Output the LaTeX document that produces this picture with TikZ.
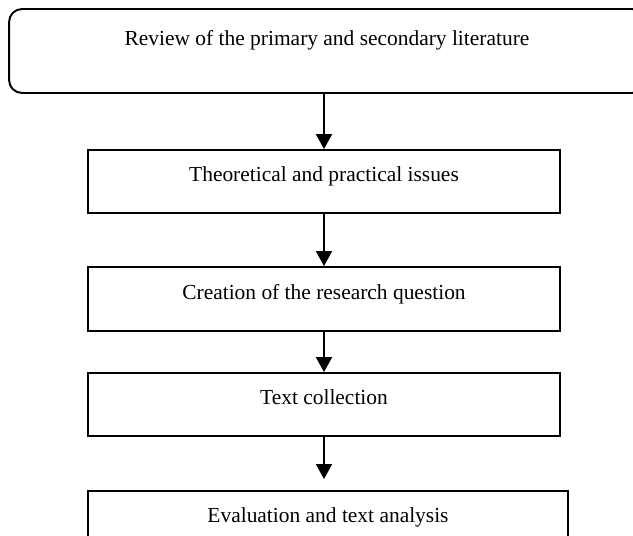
\documentclass[tikz,border=0pt]{standalone}
\usepackage{fontspec}
\setmainfont{Liberation Serif}
\usetikzlibrary{arrows.meta}
\begin{document}
\begin{tikzpicture}[x=0.02cm,y=-0.02cm,
    stage/.style={shape=rectangle,draw,line width=1.1pt,minimum height=1.26cm,
      text height=0.22cm,text depth=0.22cm,font=\fontsize{12.2}{14}\selectfont},
    flow/.style={-{Triangle[length=0.3cm,width=0.32cm]},line width=1.1pt}]
            \useasboundingbox (0,0) rectangle (633,535);
            \node (review) at (327,51) [stage,rounded corners=0.26cm,minimum width=12.72cm,minimum height=1.68cm,text depth=0.44cm] {Review of the primary and secondary literature};
            \node (issues) at (324,181.5) [stage,minimum width=9.44cm] {Theoretical and practical issues};
            \node (question) at (324,299) [stage,minimum width=9.44cm,minimum height=1.28cm] {Creation of the research question};
            \node (collection) at (324,404.5) [stage,minimum width=9.44cm] {Text collection};
            \node (evaluation) at (328,522) [stage,minimum width=9.6cm,minimum height=1.24cm] {Evaluation and text analysis};
            \draw[flow] (issues.north |- review.south)--(issues.north);
            \draw[flow] (issues.south)--(question.north);
            \draw[flow] (question.south)--(collection.north);
            \draw[flow,shorten >=0.22cm] (collection.south)--(collection.south |- evaluation.north);
        \end{tikzpicture}
\end{document}
